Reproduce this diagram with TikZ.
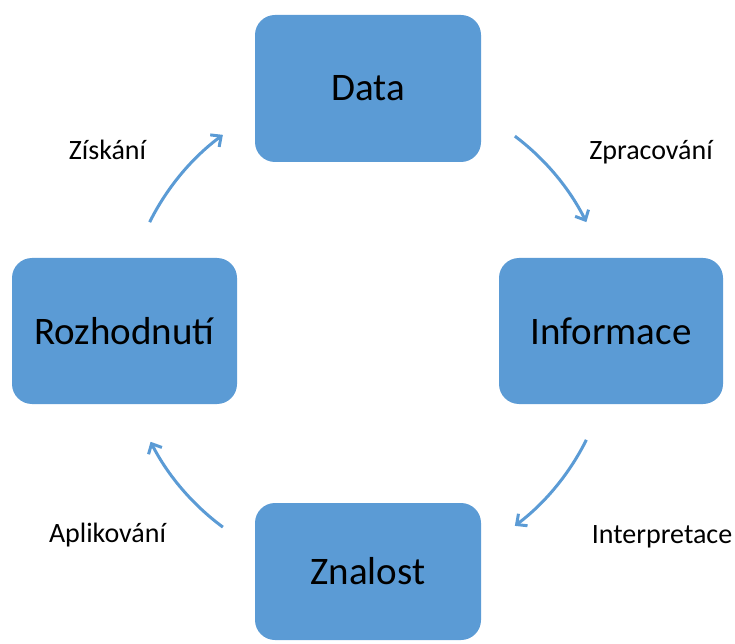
\documentclass[tikz,border=0pt]{standalone}
\usepackage{fontspec}
\setmainfont{Carlito}
\usetikzlibrary{arrows.meta}
\definecolor{boxblue}{HTML}{5B9BD5}
\definecolor{arrblue}{HTML}{5B9BD5}
\begin{document}
\begin{tikzpicture}[x=1pt,y=1pt,
  stagebox/.style={fill=boxblue,draw=none,rounded corners=20pt,inner sep=0pt,
    font=\fontsize{39}{46}\selectfont,text=black},
  cyclearrow/.style={draw=arrblue,line width=3pt,
    -{Straight Barb[length=8pt,width=15pt,line width=3pt]}},
  steplabel/.style={font=\fontsize{28}{33}\selectfont,anchor=base,inner sep=0pt}]
\useasboundingbox (0,0) rectangle (735,643);
\node[stagebox,minimum width=226pt,minimum height=147pt] (data) at (368,554.5) {Data};
\node[stagebox,minimum width=224pt,minimum height=146pt] (info) at (611,312) {Informace};
\node[stagebox,minimum width=226pt,minimum height=137pt] (know) at (368,71.5) {Znalost};
\node[stagebox,minimum width=225pt,minimum height=146pt] (dec) at (124.5,312) {Rozhodnutí};
\coordinate (c) at (368,312);
\draw[cyclearrow] ([shift={(53:244)}]c) arc[start angle=53,end angle=26.5,radius=244];
\draw[cyclearrow] ([shift={(-26.5:244)}]c) arc[start angle=-26.5,end angle=-53,radius=244];
\draw[cyclearrow] ([shift={(233.5:244)}]c) arc[start angle=233.5,end angle=207,radius=244];
\draw[cyclearrow] ([shift={(153.5:244)}]c) arc[start angle=153.5,end angle=126.5,radius=244];
\node[steplabel] (l1) at (651,483) {Zpracování};
\node[steplabel] (l2) at (662,100) {Interpretace};
\node[steplabel] (l3) at (107.5,101) {Aplikování};
\node[steplabel] (l4) at (107.5,483) {Získání};
\end{tikzpicture}
\end{document}
